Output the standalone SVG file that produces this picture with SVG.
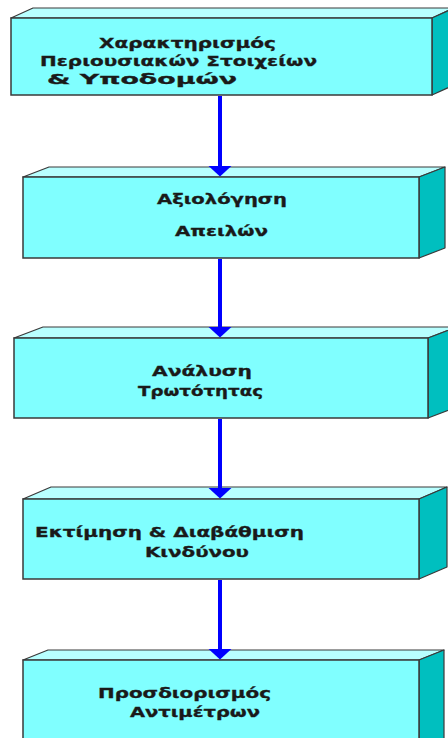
<svg xmlns="http://www.w3.org/2000/svg" width="448" height="738" viewBox="0 0 448 738">
<style>
.front{fill:#80FFFF;stroke:#3a3a3a;stroke-width:1.5}
.top{fill:#B8FFFF;stroke:#3a3a3a;stroke-width:1.2;stroke-linejoin:round}
.side{fill:#00BFBF;stroke:#3a3a3a;stroke-width:1.2;stroke-linejoin:round}
.t{font-family:"DejaVu Sans","Noto Sans",sans-serif;font-weight:bold;font-size:14px;fill:#1a1a1a;stroke:#1a1a1a;stroke-width:0.3}
.conn{stroke:#0000FF;stroke-width:4;fill:none}
</style>
<defs>
<marker id="ah" viewBox="0 0 11 24" markerWidth="11" markerHeight="24" refX="0.5" refY="12" orient="auto" markerUnits="userSpaceOnUse">
<path d="M0,0 L11,12 L0,24 Z" fill="#0000FF"/>
</marker>
</defs>
<rect width="448" height="738" fill="#ffffff"/>
<g id="node1">
<polygon class="top" points="11,18 33,8 454,8 432,18"/>
<polygon class="side" points="432,18 454,8 454,85 432,95"/>
<rect class="front" x="11" y="18" width="421" height="77"/>
<text class="t" x="99" y="48" textLength="177" lengthAdjust="spacingAndGlyphs">Χαρακτηρισμός</text>
<text class="t" x="40" y="66" textLength="277" lengthAdjust="spacingAndGlyphs">Περιουσιακών Στοιχείων</text>
<text class="t" x="47" y="84" textLength="190" lengthAdjust="spacingAndGlyphs">&amp; Υποδομών</text>
</g>
<g id="node2">
<polygon class="top" points="23,177 49,167 445,167 419,177"/>
<polygon class="side" points="419,177 445,167 445,248 419,258"/>
<rect class="front" x="23" y="177" width="396" height="81"/>
<text class="t" x="157" y="204" textLength="130" lengthAdjust="spacingAndGlyphs">Αξιολόγηση</text>
<text class="t" x="175" y="236" textLength="93" lengthAdjust="spacingAndGlyphs">Απειλών</text>
</g>
<g id="node3">
<polygon class="top" points="14,338 43,327 457,327 428,338"/>
<polygon class="side" points="428,338 457,327 457,407 428,418"/>
<rect class="front" x="14" y="338" width="414" height="80"/>
<text class="t" x="152" y="376" textLength="100" lengthAdjust="spacingAndGlyphs">Ανάλυση</text>
<text class="t" x="138" y="396" textLength="125" lengthAdjust="spacingAndGlyphs">Τρωτότητας</text>
</g>
<g id="node4">
<polygon class="top" points="23,499 51,487 447,487 419,499"/>
<polygon class="side" points="419,499 447,487 447,567 419,579"/>
<rect class="front" x="23" y="499" width="396" height="80"/>
<text class="t" x="35" y="537" textLength="269" lengthAdjust="spacingAndGlyphs">Εκτίμηση &amp; Διαβάθμιση</text>
<text class="t" x="145" y="557" textLength="104" lengthAdjust="spacingAndGlyphs">Κινδύνου</text>
</g>
<g id="node5">
<polygon class="top" points="23,660 48,650 444,650 419,660"/>
<polygon class="side" points="419,660 444,650 444,750 419,760"/>
<rect class="front" x="23" y="660" width="396" height="100"/>
<text class="t" x="98" y="698" textLength="173" lengthAdjust="spacingAndGlyphs">Προσδιορισμός</text>
<text class="t" x="130" y="717" textLength="130" lengthAdjust="spacingAndGlyphs">Αντιμέτρων</text>
</g>
<g id="connectors">
<line class="conn" x1="220" y1="96" x2="220" y2="166" marker-end="url(#ah)"/>
<line class="conn" x1="220" y1="259" x2="220" y2="327" marker-end="url(#ah)"/>
<line class="conn" x1="220" y1="419" x2="220" y2="488" marker-end="url(#ah)"/>
<line class="conn" x1="220" y1="580" x2="220" y2="649" marker-end="url(#ah)"/>
</g>
</svg>
